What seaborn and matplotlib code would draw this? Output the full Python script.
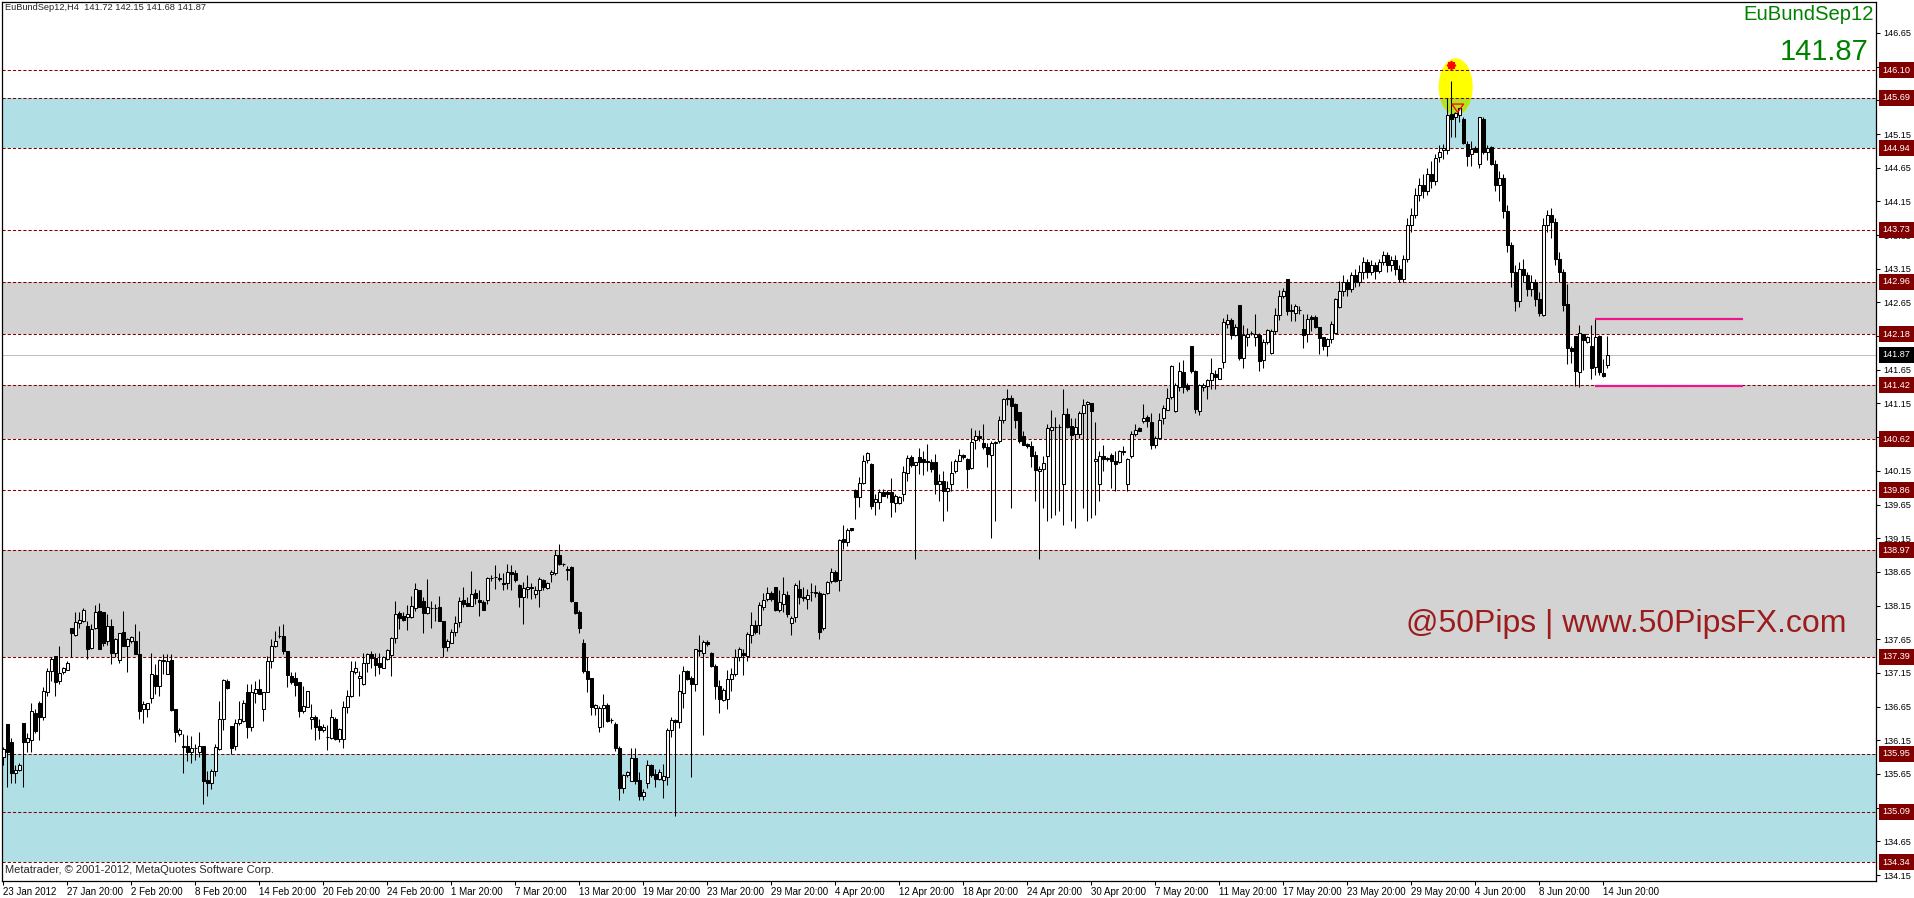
import matplotlib
matplotlib.use("Agg")
import matplotlib.pyplot as plt
import matplotlib.transforms as mtransforms
from matplotlib.patches import Ellipse, Rectangle
import seaborn as sns

# H4 candles, EuBundSep12, 23 Jan 2012 - 14 Jun 2012
opens = [
    135.90, 136.39, 136.13, 135.67, 135.71, 136.40, 136.12, 136.15, 136.56, 136.71,
    136.50, 136.87, 137.18, 137.40, 137.03, 137.17, 137.20, 137.82, 137.71, 137.89,
    137.92, 137.85, 137.52, 137.82, 138.07, 138.06, 137.62, 137.85, 137.44, 137.34,
    137.76, 137.55, 137.62, 137.62, 137.43, 136.61, 136.61, 136.78, 137.12, 136.96,
    137.32, 137.13, 137.34, 136.61, 136.24, 136.05, 136.07, 135.97, 136.03, 135.97,
    136.07, 135.56, 135.51, 135.70, 136.02, 136.46, 137.03, 136.36, 136.07, 136.41,
    136.44, 136.87, 136.35, 136.85, 136.91, 136.61, 136.87, 137.33, 137.55, 137.70,
    137.70, 137.48, 137.11, 137.08, 137.01, 136.59, 136.64, 136.46, 136.50, 136.36,
    136.30, 136.20, 136.19, 136.47, 136.17, 136.17, 136.65, 136.80, 137.16, 137.08,
    136.98, 137.29, 137.43, 137.37, 137.29, 137.23, 137.35, 137.42, 137.67, 138.04,
    137.99, 137.98, 137.98, 138.12, 138.38, 138.22, 138.04, 138.11, 138.11, 138.13,
    137.92, 137.53, 137.60, 137.76, 137.90, 138.23, 138.19, 138.15, 138.34, 138.23,
    138.21, 138.23, 138.56, 138.57, 138.56, 138.49, 138.48, 138.65, 138.64, 138.46,
    138.27, 138.40, 138.43, 138.32, 138.38, 138.53, 138.41, 138.62, 138.63, 138.90,
    138.76, 138.70, 138.72, 138.21, 138.05, 137.60, 137.18, 137.07, 136.63, 136.35,
    136.63, 136.67, 136.45, 136.39, 136.04, 135.44, 135.63, 135.55, 135.89, 135.56,
    135.33, 135.51, 135.78, 135.65, 135.57, 135.56, 135.61, 136.31, 136.45, 136.42,
    136.85, 137.18, 137.08, 136.98, 137.48, 137.45, 137.61, 137.45, 137.26, 136.96,
    136.75, 136.76, 137.06, 137.13, 137.38, 137.45, 137.40, 137.72, 137.86, 137.86,
    138.13, 138.24, 138.33, 138.43, 138.09, 138.18, 138.31, 137.89, 137.98, 138.40,
    138.28, 138.25, 138.35, 138.34, 138.34, 137.82, 138.33, 138.51, 138.65, 138.53,
    139.14, 139.09, 139.30, 139.86, 139.76, 139.97, 140.31, 140.25, 139.68, 139.68,
    139.84, 139.84, 139.83, 139.67, 139.67, 139.80, 140.12, 140.35, 140.24, 140.35,
    140.33, 140.30, 140.28, 140.28, 139.95, 140.00, 139.85, 139.95, 140.15, 140.30,
    140.38, 140.32, 140.19, 140.61, 140.66, 140.57, 140.50, 140.39, 140.57, 140.59,
    140.90, 141.22, 141.23, 141.14, 141.02, 140.66, 140.55, 140.52, 140.38, 140.15,
    140.18, 140.37, 140.76, 140.80, 140.80, 139.95, 140.99, 140.81, 140.69, 140.69,
    141.01, 141.14, 141.16, 140.30, 139.95, 140.37, 140.33, 140.39, 140.30, 140.28,
    140.45, 139.95, 140.37, 140.70, 140.78, 140.89, 140.95, 140.88, 140.53, 140.64,
    140.93, 141.06, 141.24, 141.04, 141.39, 141.62, 141.42, 142.00, 141.63, 141.04,
    141.39, 141.41, 141.50, 141.59, 141.52, 141.77, 142.33, 142.39, 142.16, 142.61,
    141.82, 142.14, 142.19, 142.14, 142.16, 141.79, 142.06, 141.90, 142.22, 142.47,
    142.74, 143.00, 142.53, 142.49, 142.54, 142.26, 142.18, 142.43, 142.44, 142.28,
    142.13, 142.00, 142.10, 142.19, 142.58, 142.82, 142.95, 142.85, 143.05, 142.95,
    143.10, 143.25, 143.10, 143.20, 143.12, 143.25, 143.35, 143.20, 143.28, 143.15,
    143.00, 143.30, 143.80, 143.95, 144.25, 144.40, 144.30, 144.55, 144.45, 144.81,
    144.91, 144.92, 145.44, 145.40, 145.43, 145.37, 145.00, 144.86, 144.94, 144.71,
    145.38, 144.88, 144.96, 144.70, 144.40, 144.50, 144.00, 143.50, 143.10, 142.67,
    143.15, 143.05, 142.85, 142.95, 142.70, 142.47, 143.80, 143.95, 143.85, 143.30,
    143.10, 142.62, 141.98, 142.15, 141.61, 142.18, 142.06, 142.00, 141.69, 142.15,
    141.60, 141.72,
]
highs = [
    136.05, 136.39, 136.18, 135.78, 135.82, 136.40, 136.26, 136.71, 136.61, 136.74,
    136.94, 137.22, 137.38, 137.40, 137.55, 137.24, 137.33, 137.82, 138.05, 138.05,
    138.11, 137.92, 137.87, 138.16, 138.19, 138.06, 138.02, 137.95, 137.67, 137.75,
    138.07, 137.67, 137.70, 137.88, 137.77, 136.74, 136.71, 137.44, 137.28, 137.35,
    137.43, 137.43, 137.43, 136.61, 136.33, 136.24, 136.23, 136.22, 136.09, 136.27,
    136.07, 135.69, 135.72, 136.09, 136.73, 137.06, 137.06, 136.36, 136.46, 136.73,
    136.75, 136.98, 136.98, 137.03, 137.06, 136.87, 137.40, 137.65, 137.77, 137.85,
    137.88, 137.48, 137.17, 137.17, 137.01, 136.96, 136.88, 136.69, 136.52, 136.46,
    136.39, 136.38, 136.61, 136.49, 136.33, 136.74, 136.89, 137.33, 137.33, 137.18,
    137.44, 137.45, 137.47, 137.45, 137.45, 137.40, 137.50, 137.69, 138.22, 138.07,
    138.06, 138.16, 138.29, 138.48, 138.38, 138.27, 138.54, 138.22, 138.18, 138.29,
    137.92, 137.66, 137.80, 138.00, 138.28, 138.43, 138.28, 138.66, 138.40, 138.38,
    138.23, 138.58, 138.60, 138.75, 138.63, 138.63, 138.76, 138.75, 138.68, 138.47,
    138.50, 138.61, 138.48, 138.44, 138.57, 138.55, 138.50, 138.68, 138.98, 139.06,
    138.78, 138.73, 138.73, 138.21, 138.08, 137.65, 137.38, 137.08, 136.69, 136.66,
    136.84, 136.71, 136.48, 136.42, 136.06, 135.65, 135.69, 136.03, 136.03, 135.68,
    135.43, 135.86, 135.80, 135.73, 135.72, 135.80, 136.33, 136.50, 136.46, 137.13,
    137.26, 137.20, 137.10, 137.51, 137.71, 137.64, 137.64, 137.46, 137.28, 137.04,
    136.93, 137.19, 137.23, 137.51, 137.53, 137.51, 137.76, 138.05, 137.94, 138.21,
    138.33, 138.42, 138.37, 138.43, 138.38, 138.57, 138.37, 138.00, 138.48, 138.53,
    138.42, 138.40, 138.48, 138.46, 138.36, 138.33, 138.51, 138.71, 138.68, 139.14,
    139.35, 139.30, 139.30, 139.88, 140.06, 140.38, 140.43, 140.26, 139.80, 139.88,
    139.88, 139.86, 140.04, 139.80, 139.78, 140.22, 140.39, 140.39, 140.28, 140.49,
    140.45, 140.55, 140.32, 140.40, 140.11, 140.15, 140.00, 140.29, 140.33, 140.48,
    140.40, 140.34, 140.78, 140.76, 140.75, 140.85, 140.57, 140.59, 140.60, 140.96,
    141.23, 141.37, 141.28, 141.15, 141.03, 140.74, 140.56, 140.59, 140.44, 140.22,
    140.37, 140.85, 141.06, 140.95, 140.84, 141.37, 141.08, 140.93, 140.93, 141.04,
    141.21, 141.18, 141.16, 140.88, 140.44, 140.54, 140.36, 140.41, 140.44, 140.46,
    140.52, 140.34, 140.74, 140.84, 140.80, 141.14, 140.98, 141.01, 140.66, 141.01,
    141.13, 141.38, 141.72, 141.45, 141.77, 141.79, 141.46, 142.01, 141.65, 141.44,
    141.45, 141.52, 141.83, 141.65, 141.68, 142.42, 142.48, 142.42, 142.33, 142.61,
    142.31, 142.27, 142.23, 142.48, 142.19, 142.10, 142.26, 142.26, 142.57, 142.84,
    142.87, 143.00, 142.62, 142.62, 142.59, 142.48, 142.48, 142.46, 142.46, 142.29,
    142.14, 142.12, 142.37, 142.71, 142.97, 143.05, 143.00, 143.10, 143.15, 143.20,
    143.32, 143.30, 143.28, 143.25, 143.30, 143.42, 143.40, 143.34, 143.35, 143.20,
    143.35, 143.90, 144.05, 144.35, 144.50, 144.55, 144.65, 144.75, 144.86, 144.98,
    145.00, 145.68, 145.94, 145.47, 145.54, 145.40, 145.05, 145.05, 144.97, 145.41,
    145.40, 144.99, 144.97, 144.76, 144.60, 144.55, 144.10, 143.55, 143.20, 143.25,
    143.30, 143.10, 143.05, 143.00, 142.80, 143.90, 144.02, 144.05, 143.90, 143.40,
    143.15, 142.93, 142.00, 142.15, 142.32, 142.18, 142.15, 142.32, 142.42, 142.16,
    141.81, 142.15,
]
lows = [
    135.78, 135.45, 135.52, 135.52, 135.70, 135.46, 135.97, 135.97, 136.26, 136.15,
    136.45, 136.81, 137.03, 136.81, 136.98, 137.13, 137.20, 137.39, 137.70, 137.82,
    137.91, 137.35, 137.50, 137.80, 137.50, 137.55, 137.57, 137.28, 137.38, 137.30,
    137.55, 137.16, 137.59, 137.43, 136.46, 136.40, 136.49, 136.71, 136.83, 136.81,
    137.13, 137.13, 136.59, 136.12, 136.22, 135.67, 135.84, 135.81, 135.86, 135.90,
    135.20, 135.33, 135.43, 135.62, 136.00, 136.31, 136.91, 135.95, 136.00, 136.37,
    136.42, 136.19, 136.29, 136.71, 136.84, 136.44, 136.87, 137.23, 137.53, 137.67,
    137.43, 136.94, 136.98, 136.81, 136.50, 136.56, 136.64, 136.32, 136.15, 136.17,
    136.28, 136.00, 136.17, 136.15, 136.13, 136.04, 136.55, 136.79, 137.13, 136.80,
    136.97, 137.16, 137.23, 137.11, 137.13, 137.23, 137.34, 137.11, 137.59, 137.80,
    137.92, 137.78, 137.97, 138.07, 138.13, 137.75, 138.02, 137.82, 137.92, 137.92,
    137.39, 137.48, 137.59, 137.70, 137.83, 138.13, 138.14, 138.15, 138.18, 137.99,
    138.08, 138.18, 138.51, 138.39, 138.51, 138.38, 138.40, 138.38, 138.50, 138.13,
    137.88, 138.26, 138.25, 138.26, 138.13, 138.38, 138.40, 138.50, 138.60, 138.75,
    138.74, 138.53, 138.21, 138.03, 137.75, 137.15, 136.86, 136.53, 136.53, 136.27,
    136.35, 136.42, 136.40, 135.99, 135.27, 135.36, 135.61, 135.55, 135.50, 135.27,
    135.27, 135.44, 135.60, 135.45, 135.56, 135.30, 135.49, 136.20, 135.03, 136.33,
    136.63, 137.05, 135.60, 136.88, 137.40, 136.23, 137.55, 137.24, 136.77, 136.56,
    136.74, 136.61, 136.88, 137.11, 137.33, 137.12, 137.32, 137.60, 137.73, 137.73,
    138.09, 138.22, 138.22, 138.07, 138.06, 138.06, 137.98, 137.72, 137.90, 138.18,
    138.22, 138.10, 138.22, 138.28, 137.65, 137.78, 138.32, 138.49, 138.50, 138.37,
    138.99, 139.04, 139.26, 139.44, 139.61, 139.95, 140.27, 139.58, 139.50, 139.58,
    139.77, 139.75, 139.46, 139.54, 139.66, 139.70, 140.00, 140.20, 138.84, 140.10,
    140.09, 140.15, 140.14, 139.80, 139.70, 139.40, 139.55, 139.85, 140.12, 140.29,
    140.33, 139.90, 140.17, 140.47, 140.59, 140.47, 140.20, 139.15, 139.40, 140.57,
    140.86, 141.13, 139.60, 140.79, 140.57, 140.53, 140.49, 140.20, 139.70, 138.84,
    139.60, 139.40, 139.45, 139.50, 139.55, 139.35, 140.79, 139.40, 139.30, 140.64,
    139.60, 139.40, 139.45, 139.50, 139.70, 140.15, 140.30, 139.90, 139.85, 140.26,
    140.39, 139.85, 140.34, 140.67, 140.74, 140.86, 140.80, 140.47, 140.49, 140.63,
    140.84, 141.05, 141.22, 141.03, 141.33, 141.31, 141.33, 141.60, 141.01, 140.98,
    141.34, 141.21, 141.36, 141.36, 141.51, 141.68, 142.27, 142.10, 142.15, 141.80,
    141.67, 142.00, 142.16, 142.00, 141.63, 141.67, 142.03, 141.88, 142.18, 142.39,
    142.71, 142.47, 142.37, 142.37, 142.48, 141.97, 142.07, 142.22, 142.27, 141.88,
    141.95, 141.85, 142.05, 142.18, 142.57, 142.75, 142.75, 142.80, 142.88, 142.90,
    143.00, 143.02, 143.05, 143.00, 143.08, 143.20, 143.10, 143.12, 143.05, 142.95,
    142.96, 143.25, 143.70, 143.90, 144.15, 144.20, 144.25, 144.35, 144.40, 144.74,
    144.78, 144.86, 145.10, 145.10, 145.33, 145.00, 144.68, 144.68, 144.88, 144.65,
    144.86, 144.76, 144.69, 144.30, 144.15, 143.90, 143.40, 142.88, 142.53, 142.58,
    142.95, 142.75, 142.75, 142.60, 142.45, 142.45, 143.70, 143.60, 143.20, 142.95,
    142.53, 141.73, 141.75, 141.41, 141.40, 141.65, 142.05, 141.51, 141.58, 141.58,
    141.54, 141.68,
]
closes = [
    136.02, 135.97, 135.67, 135.71, 135.79, 136.12, 136.18, 136.59, 136.29, 136.50,
    136.88, 137.18, 137.35, 137.02, 137.15, 137.22, 137.30, 137.75, 137.90, 137.93,
    138.09, 137.50, 137.80, 138.05, 137.50, 137.60, 137.85, 137.44, 137.65, 137.74,
    137.55, 137.66, 137.68, 137.43, 136.59, 136.69, 136.71, 137.13, 136.96, 137.34,
    137.34, 137.33, 136.60, 136.27, 136.30, 136.06, 135.97, 136.04, 136.03, 136.07,
    135.55, 135.51, 135.70, 136.05, 136.46, 137.04, 136.92, 136.04, 136.41, 136.46,
    136.71, 136.35, 136.87, 136.91, 136.84, 136.87, 137.33, 137.55, 137.63, 137.70,
    137.48, 137.12, 137.01, 136.97, 136.59, 136.66, 136.88, 136.50, 136.35, 136.30,
    136.35, 136.20, 136.49, 136.17, 136.32, 136.65, 136.81, 137.18, 137.22, 137.11,
    137.29, 137.43, 137.37, 137.27, 137.24, 137.39, 137.49, 137.67, 138.02, 137.97,
    137.94, 138.02, 138.14, 138.39, 138.13, 138.04, 138.13, 138.11, 138.11, 137.92,
    137.53, 137.62, 137.76, 137.89, 138.22, 138.18, 138.15, 138.32, 138.26, 138.20,
    138.09, 138.56, 138.56, 138.57, 138.54, 138.47, 138.65, 138.62, 138.53, 138.28,
    138.41, 138.43, 138.41, 138.38, 138.55, 138.42, 138.48, 138.65, 138.90, 138.76,
    138.77, 138.68, 138.22, 138.04, 137.81, 137.18, 137.06, 136.65, 136.68, 136.63,
    136.68, 136.43, 136.45, 136.03, 135.44, 135.64, 135.68, 135.89, 135.55, 135.33,
    135.38, 135.78, 135.64, 135.58, 135.68, 135.62, 136.30, 136.45, 136.42, 136.88,
    137.18, 137.06, 136.99, 137.50, 137.48, 137.61, 137.58, 137.25, 136.95, 136.76,
    136.90, 137.06, 137.13, 137.38, 137.51, 137.41, 137.73, 137.86, 137.76, 138.16,
    138.23, 138.33, 138.24, 138.08, 138.20, 138.32, 138.03, 137.96, 138.45, 138.28,
    138.26, 138.31, 138.35, 138.34, 137.76, 138.32, 138.50, 138.65, 138.52, 139.13,
    139.10, 139.27, 139.27, 139.76, 139.97, 140.30, 140.42, 139.63, 139.73, 139.84,
    139.78, 139.81, 139.68, 139.78, 139.76, 140.14, 140.34, 140.24, 140.28, 140.28,
    140.28, 140.28, 140.17, 139.95, 140.00, 139.85, 139.90, 140.12, 140.30, 140.39,
    140.35, 140.17, 140.58, 140.66, 140.64, 140.50, 140.40, 140.57, 140.58, 140.91,
    141.21, 141.22, 141.11, 140.90, 140.60, 140.53, 140.52, 140.37, 140.16, 140.17,
    140.27, 140.78, 140.80, 140.80, 140.80, 140.99, 140.80, 140.68, 140.80, 141.01,
    141.13, 141.17, 141.04, 140.32, 140.37, 140.33, 140.33, 140.29, 140.25, 140.44,
    140.43, 140.33, 140.70, 140.76, 140.74, 140.94, 140.89, 140.53, 140.64, 140.90,
    141.08, 141.23, 141.70, 141.43, 141.63, 141.39, 141.36, 141.63, 141.07, 141.42,
    141.43, 141.50, 141.60, 141.54, 141.67, 142.36, 142.39, 142.17, 142.28, 141.82,
    142.16, 142.18, 142.19, 142.18, 141.78, 142.06, 142.24, 142.23, 142.47, 142.74,
    142.82, 142.53, 142.53, 142.59, 142.54, 142.16, 142.41, 142.41, 142.29, 142.12,
    142.00, 142.10, 142.33, 142.70, 142.82, 142.95, 142.85, 143.05, 142.95, 143.10,
    143.25, 143.10, 143.20, 143.12, 143.25, 143.35, 143.20, 143.28, 143.15, 143.00,
    143.30, 143.80, 143.95, 144.25, 144.40, 144.30, 144.55, 144.45, 144.79, 144.89,
    144.94, 145.43, 145.37, 145.46, 145.53, 145.02, 144.83, 144.93, 144.89, 145.40,
    144.88, 144.94, 144.70, 144.40, 144.50, 144.00, 143.50, 143.10, 142.67, 143.15,
    143.05, 142.85, 142.95, 142.70, 142.50, 143.80, 143.95, 143.85, 143.30, 143.10,
    142.61, 141.98, 141.93, 141.63, 142.20, 142.09, 142.13, 141.68, 142.14, 141.61,
    141.56, 141.87,
]

date_labels = [
    "23 Jan 2012", "27 Jan 20:00", "2 Feb 20:00", "8 Feb 20:00", "14 Feb 20:00",
    "20 Feb 20:00", "24 Feb 20:00", "1 Mar 20:00", "7 Mar 20:00", "13 Mar 20:00",
    "19 Mar 20:00", "23 Mar 20:00", "29 Mar 20:00", "4 Apr 20:00", "12 Apr 20:00",
    "18 Apr 20:00", "24 Apr 20:00", "30 Apr 20:00", "7 May 20:00", "11 May 20:00",
    "17 May 20:00", "23 May 20:00", "29 May 20:00", "4 Jun 20:00", "8 Jun 20:00",
    "14 Jun 20:00",
]
price_ticks = [
    134.15, 134.65, 135.15, 135.65, 136.15, 136.65, 137.15, 137.65, 138.15,
    138.65, 139.15, 139.65, 140.15, 140.65, 141.15, 141.65, 142.15, 142.65,
    143.15, 143.65, 144.15, 144.65, 145.15, 145.65, 146.15, 146.65,
]
level_prices = [146.10, 145.69, 144.94, 143.73, 142.96, 142.18, 141.42,
                140.62, 139.86, 138.97, 137.39, 135.95, 135.09, 134.34]
blue_zones = [(144.94, 145.69), (134.34, 135.95)]
grey_zones = [(142.18, 142.96), (140.62, 141.42), (137.39, 138.97)]
last_price = 141.87
range_levels = [142.40, 141.41]
range_from, range_to = 398, 435
peak_bar, peak_price = 362, 146.18
arrow_bar, arrow_top, arrow_tip = 363.6, 145.63, 145.43
header = "EuBundSep12,H4  141.72 142.15 141.68 141.87"
symbol = "EuBundSep12"
footer = "Metatrader, \u00a9 2001-2012, MetaQuotes Software Corp."
watermark = "@50Pips | www.50PipsFX.com"

W, H = 1914, 898
sns.set_theme(style="white")
plt.rcParams["font.family"] = ["Liberation Sans", "DejaVu Sans"]

fig = plt.figure(figsize=(W / 100, H / 100), dpi=100)
left, right, top, bottom = 2, 1876, 2, 881
ax = fig.add_axes([left / W, 1 - bottom / H, (right - left) / W, (bottom - top) / H])
ax.set_facecolor("white")

n = len(closes)
xs = list(range(n))
x0, x1 = -0.33, (right - left - 1.3) / 4
ax.set_xlim(x0, x1)
ax.set_ylim(134.061, 147.110)

# zones
for lo, hi in blue_zones:
    ax.axhspan(lo, hi, color="#B0E0E6", lw=0, zorder=0)
for lo, hi in grey_zones:
    ax.axhspan(lo, hi, color="#D3D3D3", lw=0, zorder=0)

# yellow circle round the top
ell = Ellipse((363.1, 145.85), 8.5, 0.85, fc="#FFFF00", ec="none", zorder=0.5)
ax.add_patch(ell)
ell2 = Ellipse((363.1, 145.85), 8.5, 0.85, fc="#B4E21E", ec="none", zorder=0.6)
ax.add_patch(ell2)
clip = Rectangle((x0, blue_zones[0][0]), x1 - x0, blue_zones[0][1] - blue_zones[0][0],
                 transform=ax.transData)
ell2.set_clip_path(clip)

for p in level_prices:
    ax.axhline(p, color="#800000", lw=0.75, ls=(0, (3, 2)), zorder=1)
ax.axhline(last_price, color="#C0C0C0", lw=0.75, zorder=1)

# candles
ax.vlines(xs, lows, highs, color="black", lw=0.75, zorder=3)
bodies = [max(abs(c - o), 0.004) for o, c in zip(opens, closes)]
bases = [min(o, c) for o, c in zip(opens, closes)]
fills = ["white" if c >= o else "black" for o, c in zip(opens, closes)]
ax.bar(xs, bodies, bottom=bases, width=0.6, color=fills, edgecolor="black",
       linewidth=0.75, zorder=4)

ax.hlines(range_levels, range_from, range_to, color="#F0148C", lw=1.6, zorder=5)

ax.scatter([peak_bar], [peak_price], marker=(8, 2, 0), s=30, color="red",
           linewidths=1.3, zorder=6)
ax.annotate("", xy=(arrow_bar, arrow_tip), xytext=(arrow_bar, arrow_top),
            arrowprops=dict(arrowstyle="simple,head_width=0.7,head_length=0.5,tail_width=0.35",
                            fc="none", ec="red", lw=0.9), zorder=6)

# axes
for s in ax.spines.values():
    s.set_color("black")
    s.set_linewidth(0.9)
ax.yaxis.tick_right()
ax.set_yticks(price_ticks)
ax.set_yticklabels([f"{p:.2f}" for p in price_ticks])
ax.tick_params(axis="y", right=True, left=False, direction="out", length=3,
               width=0.75, pad=2, labelsize=6.6, colors="black")
ax.set_xticks([16 * k for k in range(len(date_labels))])
ax.set_xticklabels(date_labels, ha="left")
ax.tick_params(axis="x", bottom=True, direction="out", length=3, width=0.75,
               pad=1.5, labelsize=7.0, colors="black")
ax.grid(False)

trans = mtransforms.blended_transform_factory(ax.transAxes, ax.transData)
for p in level_prices:
    ax.text(1.0035, p, f"{p:.2f}", transform=trans, ha="left", va="center",
            fontsize=6.6, color="white", clip_on=False, zorder=10,
            bbox=dict(boxstyle="square,pad=0.38", fc="#800000", ec="none"))
ax.text(1.0035, last_price, f"{last_price:.2f}", transform=trans, ha="left",
        va="center", fontsize=6.6, color="white", clip_on=False, zorder=10,
        bbox=dict(boxstyle="square,pad=0.38", fc="black", ec="none"))

fig.text(5 / W, 1 - 7 / H, header, fontsize=6.7, ha="left", va="center")
fig.text(1874 / W, 1 - 14.5 / H, symbol, fontsize=14.6, color="#008000",
         ha="right", va="center")
fig.text(1869 / W, 1 - 51.5 / H, f"{last_price:.2f}", fontsize=21,
         color="#008000", ha="right", va="center")
fig.text(1846 / W, 1 - 624 / H, watermark, fontsize=23, color="#9B1C1C",
         ha="right", va="center")
fig.text(5 / W, 1 - 870 / H, footer, fontsize=8.0, ha="left", va="center")

fig.savefig("out.png", dpi=100)
